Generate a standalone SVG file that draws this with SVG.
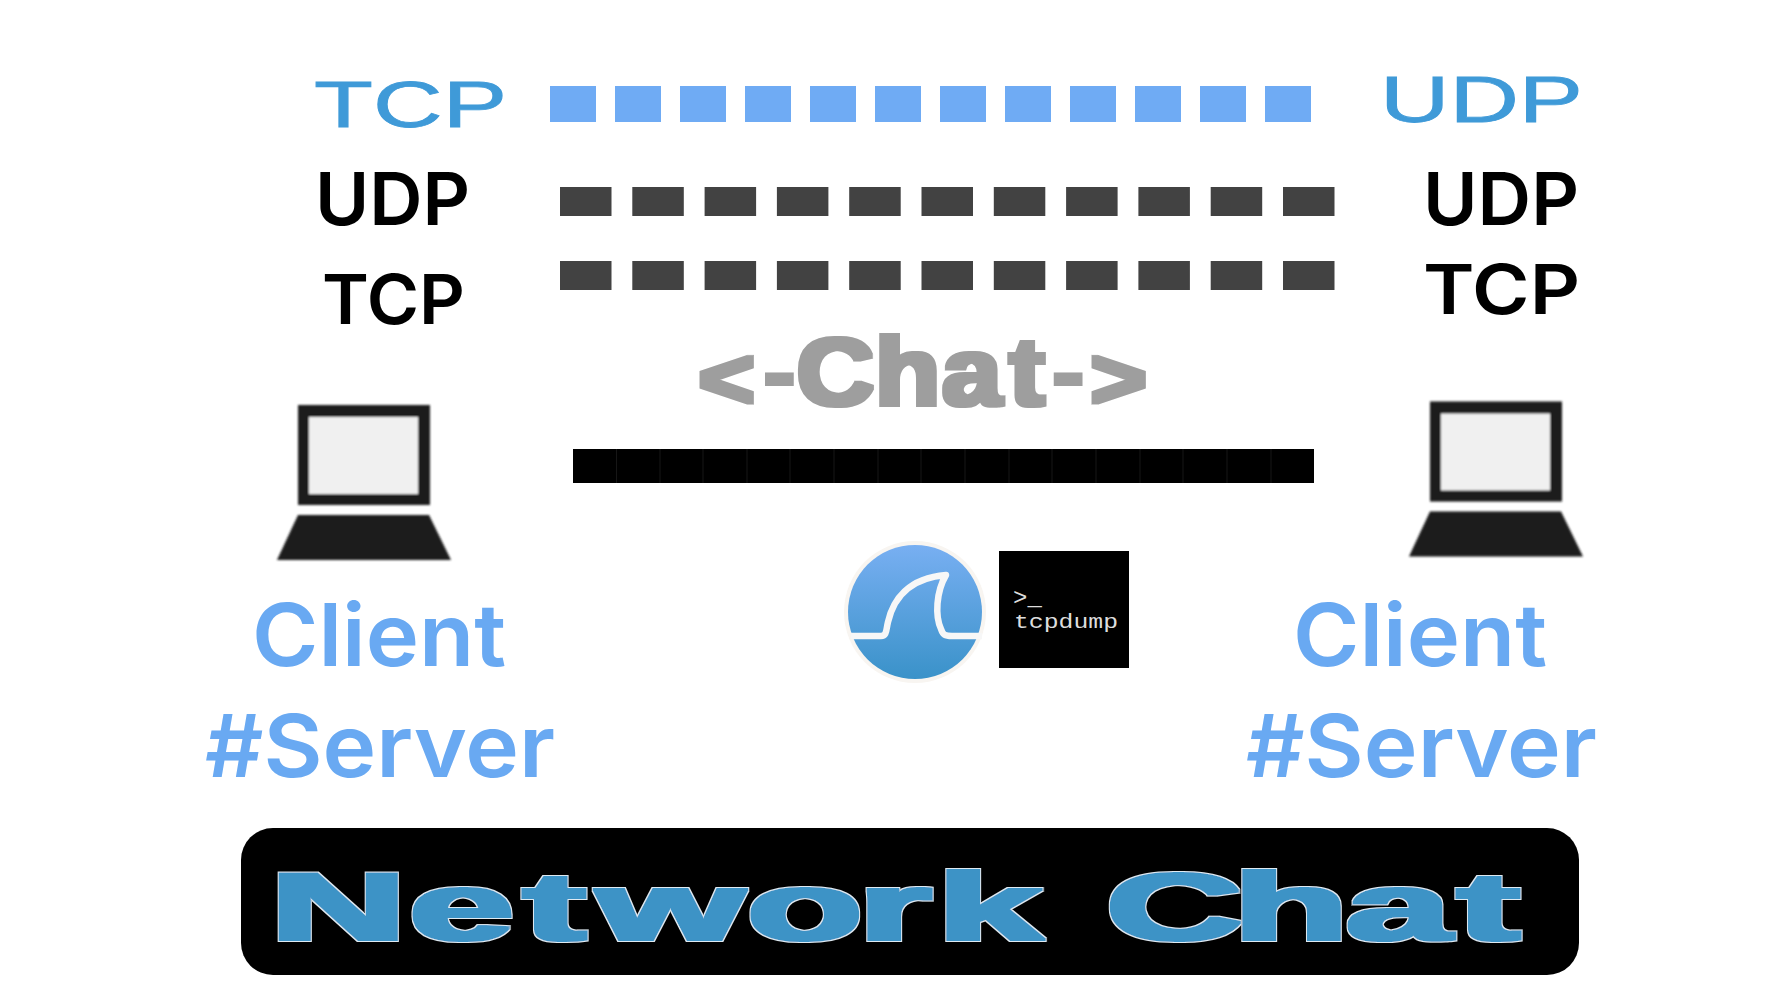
<svg xmlns="http://www.w3.org/2000/svg" width="1768" height="995" viewBox="0 0 1768 995">
<style>
text{font-family:"Liberation Sans",Arial,sans-serif}
.blue-dash{fill:#6fabf4}
.dark-dash{fill:#424242}
.proto{font-family:Inter,"Noto Sans",sans-serif;font-size:73px;font-weight:600;fill:#000}
.proto-s{font-size:69px}
.wide{font-size:65px;fill:#3f9ad8;stroke:#3f9ad8;stroke-width:.8px}
.role{font-family:Inter,"Noto Sans",sans-serif;font-size:87px;font-weight:600;fill:#69a9f2}
.lap{fill:#1c1c1c}
.scr{fill:#f0f0f0}
.mono{font-family:"Liberation Mono",monospace;fill:#ddd}
</style>
<defs>
<filter id="soft" x="-5%" y="-5%" width="110%" height="110%"><feGaussianBlur stdDeviation="0.9"/></filter>
<linearGradient id="ws" x1="0" y1="0" x2="0" y2="1"><stop offset="0" stop-color="#78aff2"/><stop offset="1" stop-color="#3a92c9"/></linearGradient>
<filter id="heavy" filterUnits="userSpaceOnUse" x="240" y="840" width="1340" height="130">
<feMorphology in="SourceAlpha" operator="dilate" radius="4 1.4" result="a"/>
<feMorphology in="SourceAlpha" operator="dilate" radius="5.200 2.400" result="b"/>
<feFlood flood-color="#dfeaf2"/><feComposite in2="b" operator="in" result="edge"/>
<feFlood flood-color="#3e93c6"/><feComposite in2="a" operator="in" result="fill"/>
<feMerge><feMergeNode in="edge"/><feMergeNode in="fill"/></feMerge>
</filter>
<filter id="fat" filterUnits="userSpaceOnUse" x="680" y="320" width="490" height="100"><feMorphology operator="dilate" radius="2.500 1.500"/></filter>
<g id="laptop-shape" filter="url(#soft)">
<rect class="lap" x="298" y="405" width="132" height="100"/>
<rect class="scr" x="309" y="417" width="109" height="77"/>
<path class="lap" d="M298 515H429L451 560H277Z"/>
</g>
<g id="dash-row"><rect class="dark-dash" x="560" width="51.500" height="29"/><rect class="dark-dash" x="632.300" width="51.500" height="29"/><rect class="dark-dash" x="704.600" width="51.500" height="29"/><rect class="dark-dash" x="776.900" width="51.500" height="29"/><rect class="dark-dash" x="849.200" width="51.500" height="29"/><rect class="dark-dash" x="921.500" width="51.500" height="29"/><rect class="dark-dash" x="993.800" width="51.500" height="29"/><rect class="dark-dash" x="1066.100" width="51.500" height="29"/><rect class="dark-dash" x="1138.400" width="51.500" height="29"/><rect class="dark-dash" x="1210.700" width="51.500" height="29"/><rect class="dark-dash" x="1283" width="51.500" height="29"/></g>
</defs>
<rect width="1768" height="995" fill="#fff"/>
<g id="connectors">
<g id="tcp-blue-line"><rect class="blue-dash" x="550" y="86" width="46" height="36"/><rect class="blue-dash" x="615" y="86" width="46" height="36"/><rect class="blue-dash" x="680" y="86" width="46" height="36"/><rect class="blue-dash" x="745" y="86" width="46" height="36"/><rect class="blue-dash" x="810" y="86" width="46" height="36"/><rect class="blue-dash" x="875" y="86" width="46" height="36"/><rect class="blue-dash" x="940" y="86" width="46" height="36"/><rect class="blue-dash" x="1005" y="86" width="46" height="36"/><rect class="blue-dash" x="1070" y="86" width="46" height="36"/><rect class="blue-dash" x="1135" y="86" width="46" height="36"/><rect class="blue-dash" x="1200" y="86" width="46" height="36"/><rect class="blue-dash" x="1265" y="86" width="46" height="36"/></g>
<use href="#dash-row" y="187"/>
<use href="#dash-row" y="261"/>
<rect id="chat-bar" x="573" y="449" width="741" height="34" fill="#000"/>
<path d="M616.500 449v34M660 449v34M703 449v34M747 449v34M790 449v34M834 449v34M878 449v34M921 449v34M965 449v34M1009 449v34M1052 449v34M1096 449v34M1140 449v34M1183 449v34M1227 449v34M1271 449v34" stroke="#161616" stroke-width="1" fill="none"/>
</g>
<g id="labels-top">
<text class="wide" x="314" y="127" textLength="193" lengthAdjust="spacingAndGlyphs">TCP</text>
<text class="wide" x="1380" y="122" textLength="203" lengthAdjust="spacingAndGlyphs">UDP</text>
<text class="proto" x="315" y="225" textLength="155" lengthAdjust="spacingAndGlyphs">UDP</text>
<text class="proto proto-s" x="322" y="324" textLength="143" lengthAdjust="spacingAndGlyphs">TCP</text>
<text class="proto" x="1423" y="225" textLength="156" lengthAdjust="spacingAndGlyphs">UDP</text>
<text class="proto proto-s" x="1423" y="314" textLength="157" lengthAdjust="spacingAndGlyphs">TCP</text>
</g>
<g id="chat-label" filter="url(#fat)"><text transform="scale(1.12 1)" font-size="96" font-weight="700" fill="#9e9e9e"><tspan x="623.700" y="408" font-size="86">&lt;</tspan><tspan x="682.500" y="400" font-size="80">-</tspan><tspan x="711.200 781 841 901" y="404.800">Chat</tspan><tspan x="940.500" y="400" font-size="80">-</tspan><tspan x="973.700" y="408" font-size="86">&gt;</tspan></text></g>
<g id="client-left">
<use href="#laptop-shape"/>
<text class="role" x="252" y="666" textLength="254" lengthAdjust="spacingAndGlyphs">Client</text>
<text class="role" x="205" y="777" textLength="350" lengthAdjust="spacingAndGlyphs">#Server</text>
</g>
<g id="client-right">
<use href="#laptop-shape" x="1132" y="-3.500"/>
<text class="role" x="1293" y="666" textLength="254" lengthAdjust="spacingAndGlyphs">Client</text>
<text class="role" x="1246" y="777" textLength="351" lengthAdjust="spacingAndGlyphs">#Server</text>
</g>
<g id="wireshark">
<circle cx="915" cy="612" r="71" fill="#f8f5f1"/>
<circle cx="915" cy="612" r="67" fill="url(#ws)"/>
<path d="M851 636H881C887 636 886 630 888 622C893 600 908 578 946 575C936 592 935 616 941 629C943 635 945 636 952 636H982" fill="none" stroke="#f7f7f7" stroke-width="6.500" stroke-linejoin="round"/>
</g>
<g id="tcpdump">
<rect x="999" y="551" width="130" height="117" fill="#000"/>
<text class="mono" x="1013" y="605" font-size="24">&gt;_</text>
<text class="mono" x="1014" y="628" font-size="21" textLength="104" lengthAdjust="spacingAndGlyphs">tcpdump</text>
</g>
<g id="title">
<rect x="241" y="828" width="1338" height="147" rx="32" fill="#000"/>
<g filter="url(#heavy)"><text transform="scale(1.95 1)" x="138.500 209.700 268.200 306.200 383.100 440 480.500 533 567.200 632.300 690.300 747.200" y="940" font-size="97" font-weight="700">Network Chat</text></g>
</g>
</svg>
